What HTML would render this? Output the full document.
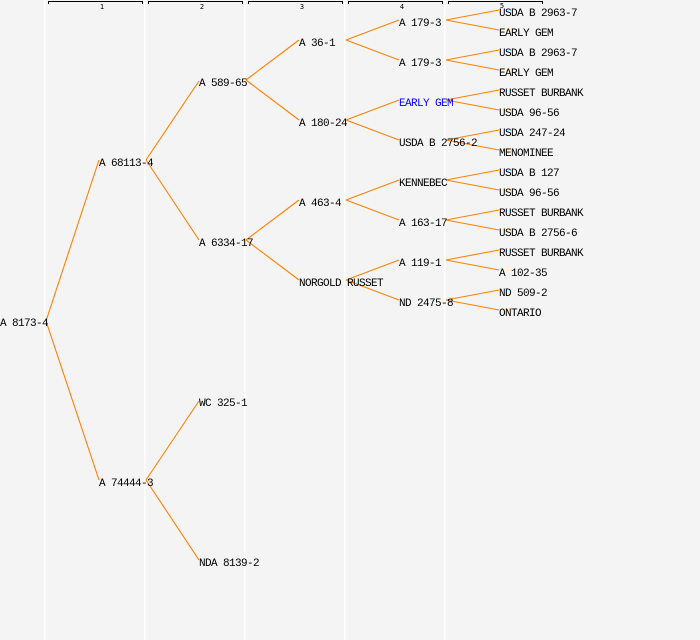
<!DOCTYPE html>
<html><head><meta charset="utf-8"><style>
html,body{margin:0;padding:0;background:#f4f4f4}
svg{display:block}
text{font-family:"Liberation Mono","DejaVu Sans Mono",monospace;font-size:11px;letter-spacing:-0.6px;fill:#000}
.n{font-family:"DejaVu Sans Mono",monospace;font-size:7px;letter-spacing:0;text-anchor:middle}
</style></head><body>
<svg width="700" height="640" viewBox="0 0 700 640" xmlns="http://www.w3.org/2000/svg">
<rect width="700" height="640" fill="#f4f4f4"/>
<g fill="#fff"><rect x="44" y="0" width="1" height="640"/><rect x="144" y="0" width="1" height="640"/><rect x="244" y="0" width="1" height="640"/><rect x="344" y="0" width="1" height="640"/><rect x="444" y="0" width="1" height="640"/></g>
<g fill="#fafafa"><rect x="45" y="0" width="1" height="640"/><rect x="145" y="0" width="1" height="640"/><rect x="245" y="0" width="1" height="640"/><rect x="345" y="0" width="1" height="640"/><rect x="445" y="0" width="1" height="640"/></g>
<g fill="none" stroke="#000" stroke-width="1" shape-rendering="crispEdges">
<path d="M48.5 4V1.5H142.5V4"/><path d="M148.5 4V1.5H242.5V4"/><path d="M248.5 4V1.5H342.5V4"/><path d="M348.5 4V1.5H442.5V4"/><path d="M448.5 4V1.5H542.5V4"/>
</g>
<text class="n" x="102" y="9">1</text><text class="n" x="202" y="9">2</text><text class="n" x="302" y="9">3</text><text class="n" x="402" y="9">4</text><text class="n" x="502" y="8">5</text>
<g fill="none" stroke="#ff8000" stroke-width="1.1">
<path d="M46 321L99 160M46 321L99 480"/>
<path d="M146 160L199 81M146 160L199 240M146 480L199 401M146 480L199 560"/>
<path d="M246 80L299 40M246 80L299 120M246 240L299 200M246 240L299 280"/>
<path d="M346 40L399 20M346 40L399 60M346 120L399 100M346 120L399 140M346 200L399 180M346 200L399 220M346 280L399 260M346 280L399 300"/>
<path d="M446 20L499 10M446 20L499 30M446 60L499 50M446 60L499 70M446 100L499 90M446 100L499 110M446 140L499 130M446 140L499 150M446 180L499 170M446 180L499 190M446 220L499 210M446 220L499 230M446 260L499 250M446 260L499 270M446 300L499 290M446 300L499 310"/>
</g>
<text x="0" y="326">A 8173-4</text>
<text x="99" y="166">A 68113-4</text>
<text x="99" y="486">A 74444-3</text>
<text x="199" y="86">A 589-65</text>
<text x="199" y="246">A 6334-17</text>
<text x="199" y="406">WC 325-1</text>
<text x="199" y="566">NDA 8139-2</text>
<text x="299" y="46">A 36-1</text>
<text x="299" y="126">A 180-24</text>
<text x="299" y="206">A 463-4</text>
<text x="299" y="286">NORGOLD RUSSET</text>
<text x="399" y="26">A 179-3</text>
<text x="399" y="66">A 179-3</text>
<text x="399" y="106" style="fill:#0000ff">EARLY GEM</text>
<text x="399" y="146">USDA B 2756-2</text>
<text x="399" y="186">KENNEBEC</text>
<text x="399" y="226">A 163-17</text>
<text x="399" y="266">A 119-1</text>
<text x="399" y="306">ND 2475-8</text>
<text x="499" y="16">USDA B 2963-7</text>
<text x="499" y="36">EARLY GEM</text>
<text x="499" y="56">USDA B 2963-7</text>
<text x="499" y="76">EARLY GEM</text>
<text x="499" y="96">RUSSET BURBANK</text>
<text x="499" y="116">USDA 96-56</text>
<text x="499" y="136">USDA 247-24</text>
<text x="499" y="156">MENOMINEE</text>
<text x="499" y="176">USDA B 127</text>
<text x="499" y="196">USDA 96-56</text>
<text x="499" y="216">RUSSET BURBANK</text>
<text x="499" y="236">USDA B 2756-6</text>
<text x="499" y="256">RUSSET BURBANK</text>
<text x="499" y="276">A 102-35</text>
<text x="499" y="296">ND 509-2</text>
<text x="499" y="316">ONTARIO</text>
</svg>
</body></html>
